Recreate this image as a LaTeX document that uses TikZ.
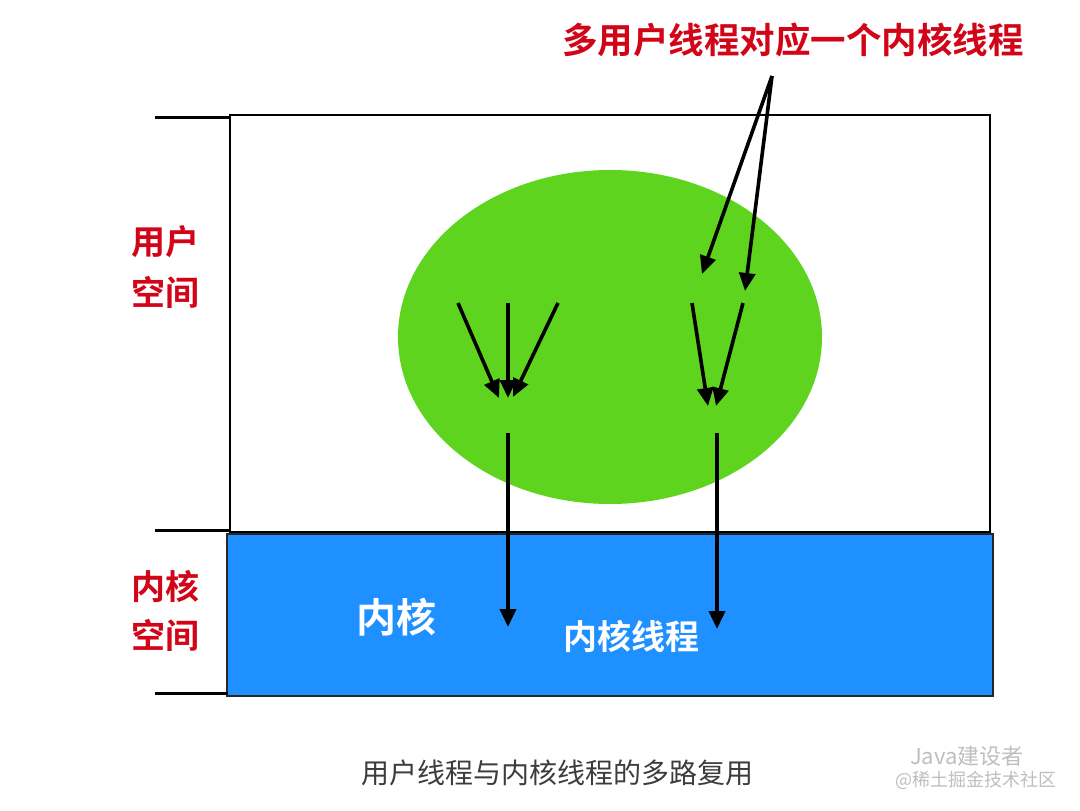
\documentclass[tikz,border=0pt]{standalone}
\usepackage{fontspec}
\newfontfamily\cjk{Noto Sans CJK SC}
\newfontfamily\cjkb{Noto Sans CJK SC Bold}
\usetikzlibrary{arrows.meta}
\definecolor{lblred}{RGB}{210,4,24}
\definecolor{kblue}{RGB}{30,144,255}
\definecolor{ugreen}{RGB}{94,212,30}
\definecolor{captgray}{RGB}{60,60,60}
\definecolor{wmgray}{RGB}{190,190,190}
\tikzset{
  thr/.style={line width=3.6pt,-{Triangle[length=18pt,width=16pt]}},
  tick/.style={line width=3pt},
  redlbl/.style={text=lblred,font=\cjkb\fontsize{34}{40}\selectfont,align=center,inner sep=0pt},
}
\begin{document}
\begin{tikzpicture}[x=1pt,y=-1pt]
\useasboundingbox (0,0) rectangle (1080,811);
% user space box
\draw[line width=1.8pt,fill=white] (230,115) rectangle (990,532);
% ellipse
\fill[ugreen] (610,337) ellipse [x radius=212pt, y radius=167pt];
% kernel box
\draw[line width=2pt,draw=black!85,fill=kblue] (227,534) rectangle (993,696);
% ticks
\draw[tick] (155,117) -- (230,117);
\draw[tick] (155,530) -- (230,530);
\draw[tick] (155,693) -- (228,693);
% labels
\node[redlbl] (us) at (165,267) {用户\\[11pt]空间};
\node[redlbl] (ks) at (165,611) {内核\\[9pt]空间};
\node[text=lblred,font=\cjkb\fontsize{35.5}{40}\selectfont,inner sep=0pt] (top) at (793,40) {多用户线程对应一个内核线程};
\node[text=white,font=\cjkb\fontsize{40}{48}\selectfont,inner sep=0pt] (kern) at (396,617) {内核};
\node[text=white,font=\cjkb\fontsize{34}{40}\selectfont,inner sep=0pt] (kt) at (631,636) {内核线程};
\node[text=captgray,font=\cjk\fontsize{28}{32}\selectfont,inner sep=0pt] (cap) at (557,773) {用户线程与内核线程的多路复用};
\node[text=wmgray,font=\cjk\fontsize{22}{26}\selectfont,inner sep=0pt,anchor=west] (wm1) at (910,756) {Java建设者};
\node[text=wmgray,font=\cjk\fontsize{18}{22}\selectfont,inner sep=0pt,anchor=west] (wm2) at (895,780) {@稀土掘金技术社区};
% coordinates
\coordinate (o) at (772,76);
\coordinate (t1) at (702,274);
\coordinate (t2) at (745,291);
\coordinate (a1s) at (458,303); \coordinate (a1e) at (499,398);
\coordinate (a2s) at (508,303); \coordinate (a2e) at (508,398);
\coordinate (a3s) at (558,303); \coordinate (a3e) at (513,397);
\coordinate (b1s) at (692,303); \coordinate (b1e) at (708,406);
\coordinate (b2s) at (743,303); \coordinate (b2e) at (716,406);
\coordinate (v1s) at (508,433); \coordinate (v1e) at (508,627);
\coordinate (v2s) at (717,433); \coordinate (v2e) at (717,629);
% arrows
\draw[thr] (o) -- (t1);
\draw[thr] (o) -- (t2);
\draw[thr] (a1s) -- (a1e);
\draw[thr] (a2s) -- (a2e);
\draw[thr] (a3s) -- (a3e);
\draw[thr] (b1s) -- (b1e);
\draw[thr] (b2s) -- (b2e);
\draw[thr] (v1s) -- (v1e);
\draw[thr] (v2s) -- (v2e);
\end{tikzpicture}
\end{document}
